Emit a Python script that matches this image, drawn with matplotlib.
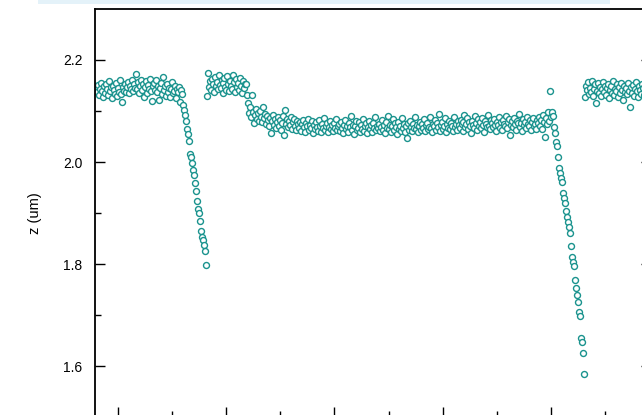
import matplotlib.pyplot as plt
import numpy as np
from matplotlib.patches import Rectangle

plt.rcParams['font.family'] = ['Liberation Sans', 'DejaVu Sans']

# scan settings (um)
scan_start = 79.7
scan_step = 0.92

# z profile (um)
plateau_a = [2.146, 2.138, 2.151, 2.132, 2.144, 2.155, 2.140, 2.128, 2.149, 2.136,
             2.152, 2.143, 2.131, 2.158, 2.139, 2.147, 2.125, 2.150, 2.141, 2.134,
             2.155, 2.129, 2.145, 2.137, 2.160, 2.133, 2.118, 2.148, 2.140, 2.152,
             2.138, 2.147, 2.156, 2.135, 2.150, 2.143, 2.161, 2.139, 2.152, 2.146,
             2.173, 2.144, 2.157, 2.135, 2.150, 2.160, 2.141, 2.153, 2.128, 2.147,
             2.158, 2.136, 2.151, 2.144, 2.163, 2.139, 2.120, 2.149, 2.155, 2.142,
             2.160, 2.137, 2.150, 2.122, 2.145, 2.155, 2.133, 2.166, 2.141, 2.149,
             2.130, 2.152, 2.138, 2.146, 2.127, 2.143, 2.156, 2.135, 2.140, 2.150,
             2.125, 2.144, 2.137, 2.148, 2.118, 2.141, 2.133]

drop_a = [2.112, 2.102, 2.092, 2.080, 2.065, 2.055, 2.041, 2.016, 2.010, 1.998,
          1.984, 1.975, 1.959, 1.943, 1.924, 1.908, 1.900, 1.884, 1.865, 1.853,
          1.847, 1.837, 1.825, 1.798]

plateau_b = [2.130, 2.175, 2.147, 2.158, 2.141, 2.163, 2.152, 2.138, 2.166, 2.149,
             2.157, 2.143, 2.170, 2.151, 2.145, 2.160, 2.136, 2.155, 2.164, 2.148,
             2.141, 2.168, 2.153, 2.139, 2.159, 2.150, 2.144, 2.171, 2.156, 2.137,
             2.162, 2.147, 2.154, 2.142, 2.165, 2.150, 2.135, 2.158, 2.146, 2.152,
             2.153, 2.131, 2.115]

plateau_c = [2.096, 2.108, 2.088, 2.131, 2.099, 2.076, 2.093, 2.104, 2.085, 2.096,
             2.081, 2.100, 2.089, 2.078, 2.108, 2.086, 2.094, 2.074, 2.090, 2.083,
             2.070, 2.086, 2.057, 2.081, 2.092, 2.073, 2.084, 2.066, 2.079, 2.088,
             2.071, 2.083, 2.062, 2.077, 2.090, 2.053, 2.102, 2.074, 2.085, 2.068,
             2.080, 2.073, 2.089, 2.065, 2.078, 2.084, 2.070, 2.062, 2.081, 2.075,
             2.066, 2.079, 2.060, 2.074, 2.083, 2.068, 2.058, 2.077, 2.071, 2.085,
             2.062, 2.073, 2.067, 2.080, 2.056, 2.072, 2.064, 2.078, 2.069, 2.061,
             2.082, 2.070, 2.059, 2.075, 2.066, 2.087, 2.063, 2.071, 2.077, 2.058,
             2.068, 2.080, 2.064, 2.073, 2.060, 2.076, 2.067, 2.084, 2.062, 2.071,
             2.074, 2.061, 2.079, 2.066, 2.057, 2.072, 2.083, 2.064, 2.070, 2.059,
             2.076, 2.068, 2.090, 2.062, 2.073, 2.055, 2.071, 2.080, 2.063, 2.067,
             2.078, 2.058, 2.073, 2.065, 2.084, 2.061, 2.070, 2.076, 2.056, 2.068,
             2.081, 2.064, 2.072, 2.059, 2.077, 2.066, 2.088, 2.062, 2.071, 2.067,
             2.075, 2.060, 2.069, 2.082, 2.063, 2.072, 2.057, 2.078, 2.066, 2.091,
             2.064, 2.073, 2.059, 2.070, 2.084, 2.062, 2.076, 2.068, 2.055, 2.079,
             2.065, 2.071, 2.060, 2.086, 2.067, 2.074, 2.058, 2.070, 2.047, 2.077,
             2.063, 2.081, 2.069, 2.061, 2.075, 2.066, 2.089, 2.064, 2.072, 2.058,
             2.070, 2.079, 2.062, 2.074, 2.067, 2.085, 2.060, 2.072, 2.077, 2.064,
             2.069, 2.088, 2.066, 2.058, 2.075, 2.071, 2.083, 2.063, 2.076, 2.068,
             2.094, 2.061, 2.073, 2.079, 2.065, 2.070, 2.086, 2.059, 2.074, 2.067,
             2.081, 2.064, 2.077, 2.071, 2.060, 2.089, 2.068, 2.075, 2.063, 2.080,
             2.072, 2.066, 2.083, 2.075, 2.061, 2.078, 2.092, 2.069, 2.074, 2.086,
             2.064, 2.079, 2.071, 2.057, 2.081, 2.073, 2.067, 2.090, 2.076, 2.062,
             2.084, 2.070, 2.078, 2.066, 2.087, 2.073, 2.059, 2.080, 2.075, 2.069,
             2.093, 2.071, 2.064, 2.082, 2.076, 2.068, 2.085, 2.072, 2.061, 2.079,
             2.073, 2.088, 2.067, 2.079, 2.062, 2.083, 2.075, 2.070, 2.091, 2.066,
             2.078, 2.084, 2.053, 2.072, 2.080, 2.069, 2.087, 2.074, 2.063, 2.081,
             2.076, 2.094, 2.068, 2.077, 2.060, 2.085, 2.072, 2.079, 2.066, 2.089,
             2.074, 2.070, 2.083, 2.063, 2.078, 2.086, 2.071, 2.075, 2.065, 2.082,
             2.077, 2.088, 2.070, 2.083, 2.065, 2.092, 2.079, 2.050, 2.086, 2.074,
             2.098, 2.081, 2.140, 2.089]

drop_b = [2.099, 2.090, 2.069, 2.057, 2.040, 2.031, 2.010, 1.988, 1.979, 1.969,
          1.961, 1.939, 1.929, 1.920, 1.903, 1.893, 1.883, 1.873, 1.861, 1.835,
          1.814, 1.804, 1.796, 1.769, 1.752, 1.739, 1.726, 1.706, 1.698, 1.655,
          1.648, 1.625, 1.584]

plateau_d = [2.127, 2.150, 2.141, 2.156, 2.133, 2.146, 2.138, 2.159, 2.130, 2.144,
             2.152, 2.116, 2.140, 2.155, 2.135, 2.148, 2.129, 2.143, 2.157, 2.137,
             2.150, 2.132, 2.145, 2.153, 2.126, 2.141, 2.149, 2.136, 2.158, 2.131,
             2.144, 2.139, 2.152, 2.128, 2.147, 2.135, 2.155, 2.142, 2.122, 2.149,
             2.138, 2.146, 2.133, 2.154, 2.140, 2.108, 2.148, 2.136, 2.151, 2.130,
             2.144, 2.157, 2.139, 2.127, 2.150, 2.142, 2.134, 2.153, 2.145, 2.131,
             2.148]

z = np.array(plateau_a + drop_a + plateau_b + plateau_c + drop_b + plateau_d)
x = scan_start + scan_step * np.arange(len(z))

fig = plt.figure(figsize=(6.42, 4.15), dpi=100)
# the source image is a crop: bottom and right spines fall just outside
ax = fig.add_axes([95 / 642, -2 / 415, 556 / 642, 408 / 415])

# faint band left over at the top edge of the crop
fig.patches.append(Rectangle((38 / 642, 1 - 4 / 415), 572 / 642, 4 / 415,
                             transform=fig.transFigure, facecolor='#e4f2f9',
                             edgecolor='none'))

ax.plot(x, z, linestyle='none', marker='o', markersize=4.3,
        markerfacecolor='white', markeredgecolor='#1a938e', markeredgewidth=1.0)

ax.set_xlim(78.75, 592.4)
ax.set_ylim(1.5, 2.3)
ax.set_xticks(np.arange(100, 600, 100))
ax.set_xticks(np.arange(150, 600, 100), minor=True)
ax.set_yticks([1.6, 1.8, 2.0, 2.2])
ax.set_yticks([1.7, 1.9, 2.1], minor=True)
ax.set_yticklabels(['1.6', '1.8', '2.0', '2.2'])
ax.set_xticklabels([])

for s in ax.spines.values():
    s.set_linewidth(1.3)

ax.tick_params(which='both', direction='in', top=False, right=True, width=1.0)
ax.tick_params(which='major', length=7, labelsize=10, pad=9)
ax.tick_params(which='minor', length=4)

ax.set_ylabel('z (um)', fontsize=10.5)
ax.yaxis.set_label_coords(-0.095, 0.5)

fig.savefig('out.png', dpi=100)
